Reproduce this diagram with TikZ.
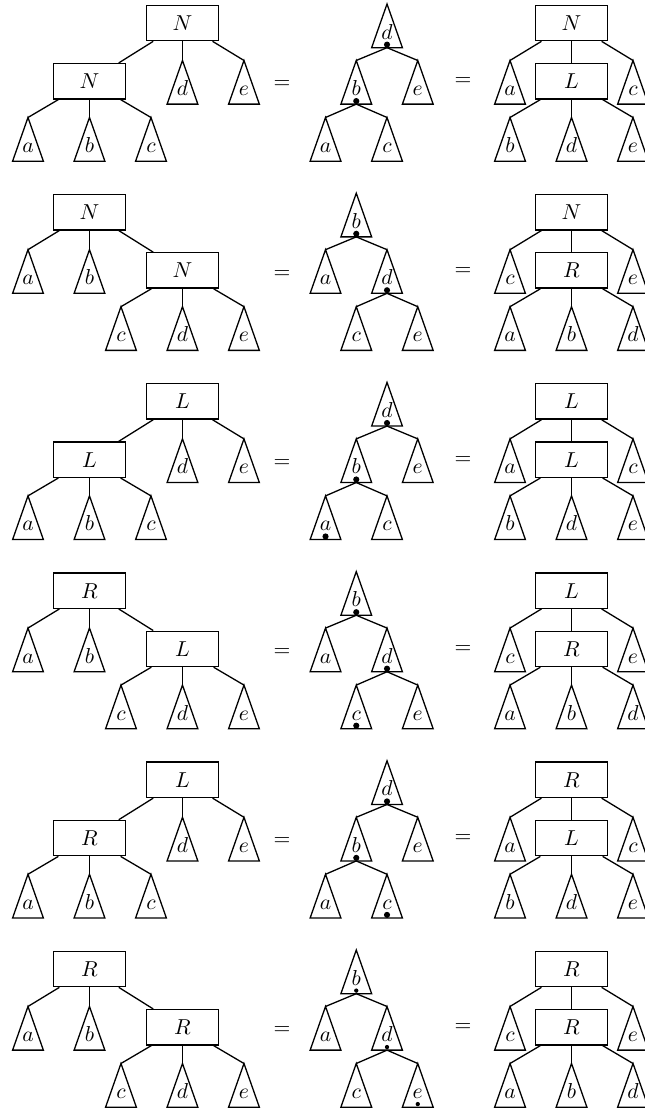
\documentclass[tikz,border=0pt]{standalone}
\usepackage{amsmath,amssymb}
\usetikzlibrary{positioning,calc}

\tikzset{
  blk/.style={draw, minimum width=1.17cm, minimum height=0.575cm, inner sep=0pt},
  leaf/.style={anchor=base, inner sep=0pt},
  bigdot/.style={circle, fill, inner sep=0pt, minimum size=1mm},
  smalldot/.style={circle, fill, inner sep=0pt, minimum size=0.7mm}
}

% triangle for a subtree: name, apex, letter
\newcommand{\subtri}[3]{%
  \coordinate (#1) at (#2);
  \coordinate (#1-s) at ($(#1)+(0,-0.71)$);
  \draw (#1) -- ($(#1-s)+(-0.25,0)$) -- ($(#1-s)+(0.25,0)$) -- cycle;
  \node[leaf] (#1-t) at ($(#1-s)+(0,0.14)$) {$#3$};
}

\begin{document}
\begin{tikzpicture}[semithick]
  \useasboundingbox (0,0) rectangle (10.472,-18.065);

  % Rows where the nested box hangs on the left
  \foreach \k/\topl/\innl/\rtop/\rinn [evaluate=\k as \yy using -(0.0813+3.0764*\k)]
      in {0/N/N/N/L, 2/L/L/L/L, 4/L/R/R/L} {
    % Left tree
    \node[blk] (r\k-top) at (2.967,\yy-0.293) {$\topl$};
    \node[blk] (r\k-in) at (1.455,\yy-1.24) {$\innl$};
    \subtri{r\k-d}{2.967,\yy-0.902}{d}
    \subtri{r\k-e}{3.967,\yy-0.902}{e}
    \subtri{r\k-a}{0.455,\yy-1.829}{a}
    \subtri{r\k-b}{1.455,\yy-1.829}{b}
    \subtri{r\k-c}{2.455,\yy-1.829}{c}
    \draw (r\k-top) -- (r\k-in);
    \draw (r\k-top) -- (r\k-d);
    \draw (r\k-top) -- (r\k-e);
    \foreach \ch in {a,b,c}
      \draw (r\k-in) -- (r\k-\ch);

    % Binary tree
    \subtri{r\k-md}{6.293,\yy+0.016}{d}
    \subtri{r\k-mb}{5.793,\yy-0.902}{b}
    \subtri{r\k-me}{6.793,\yy-0.902}{e}
    \subtri{r\k-ma}{5.293,\yy-1.829}{a}
    \subtri{r\k-mc}{6.293,\yy-1.829}{c}
    \draw (r\k-md-s) -- (r\k-mb);
    \draw (r\k-md-s) -- (r\k-me);
    \draw (r\k-mb-s) -- (r\k-ma);
    \draw (r\k-mb-s) -- (r\k-mc);

    % Right tree
    \node[blk] (r\k-rtop) at (9.293,\yy-0.293) {$\rtop$};
    \node[blk] (r\k-rin) at (9.293,\yy-1.24) {$\rinn$};
    \subtri{r\k-ra}{8.293,\yy-0.902}{a}
    \subtri{r\k-rc}{10.293,\yy-0.902}{c}
    \subtri{r\k-rb}{8.293,\yy-1.829}{b}
    \subtri{r\k-rd}{9.293,\yy-1.829}{d}
    \subtri{r\k-re}{10.293,\yy-1.829}{e}
    \draw (r\k-rtop) -- (r\k-rin);
    \draw (r\k-rtop) -- (r\k-ra);
    \draw (r\k-rtop) -- (r\k-rc);
    \foreach \ch in {b,d,e}
      \draw (r\k-rin) -- (r\k-r\ch);

    % Equal signs
    \node (r\k-eq1) at (4.585,\yy-1.30) {$=$};
    \node (r\k-eq2) at (7.53,\yy-1.25) {$=$};
  }

  % Rows where the nested box hangs on the right
  \foreach \k/\topl/\innl/\rtop/\rinn [evaluate=\k as \yy using -(0.0813+3.0764*\k)]
      in {1/N/N/N/R, 3/R/L/L/R, 5/R/R/R/R} {
    % Left tree
    \node[blk] (r\k-top) at (1.455,\yy-0.293) {$\topl$};
    \node[blk] (r\k-in) at (2.967,\yy-1.24) {$\innl$};
    \subtri{r\k-a}{0.455,\yy-0.902}{a}
    \subtri{r\k-b}{1.455,\yy-0.902}{b}
    \subtri{r\k-c}{1.967,\yy-1.829}{c}
    \subtri{r\k-d}{2.967,\yy-1.829}{d}
    \subtri{r\k-e}{3.967,\yy-1.829}{e}
    \draw (r\k-top) -- (r\k-a);
    \draw (r\k-top) -- (r\k-b);
    \draw (r\k-top) -- (r\k-in);
    \foreach \ch in {c,d,e}
      \draw (r\k-in) -- (r\k-\ch);

    % Binary tree
    \subtri{r\k-mb}{5.793,\yy+0.016}{b}
    \subtri{r\k-ma}{5.293,\yy-0.902}{a}
    \subtri{r\k-md}{6.293,\yy-0.902}{d}
    \subtri{r\k-mc}{5.793,\yy-1.829}{c}
    \subtri{r\k-me}{6.793,\yy-1.829}{e}
    \draw (r\k-mb-s) -- (r\k-ma);
    \draw (r\k-mb-s) -- (r\k-md);
    \draw (r\k-md-s) -- (r\k-mc);
    \draw (r\k-md-s) -- (r\k-me);

    % Right tree
    \node[blk] (r\k-rtop) at (9.293,\yy-0.293) {$\rtop$};
    \node[blk] (r\k-rin) at (9.293,\yy-1.24) {$\rinn$};
    \subtri{r\k-rc}{8.293,\yy-0.902}{c}
    \subtri{r\k-re}{10.293,\yy-0.902}{e}
    \subtri{r\k-ra}{8.293,\yy-1.829}{a}
    \subtri{r\k-rb}{9.293,\yy-1.829}{b}
    \subtri{r\k-rd}{10.293,\yy-1.829}{d}
    \draw (r\k-rtop) -- (r\k-rin);
    \draw (r\k-rtop) -- (r\k-rc);
    \draw (r\k-rtop) -- (r\k-re);
    \foreach \ch in {a,b,d}
      \draw (r\k-rin) -- (r\k-r\ch);

    % Equal signs
    \node (r\k-eq1) at (4.585,\yy-1.30) {$=$};
    \node (r\k-eq2) at (7.53,\yy-1.25) {$=$};
  }

  % Marked roots
  \foreach \n in {r0-md,r0-mb,r1-mb,r1-md,r2-md,r2-mb,r2-ma,r3-mb,r3-md,r3-mc,r4-md,r4-mb,r4-mc}
    \node[bigdot] (\n-dot) at ($(\n-s)+(0,0.05)$) {};
  \foreach \n in {r5-mb,r5-md,r5-me}
    \node[smalldot] (\n-dot) at ($(\n-s)+(0,0.05)$) {};
\end{tikzpicture}
\end{document}
